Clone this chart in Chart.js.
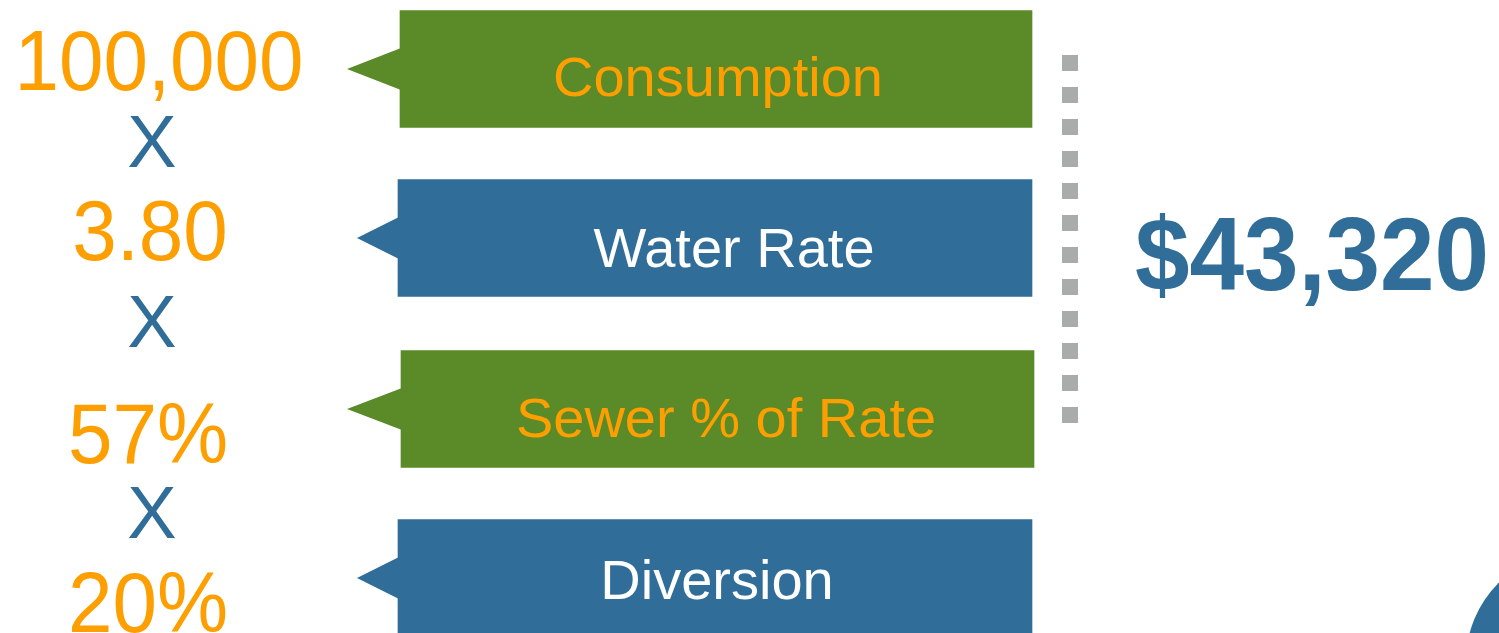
<!DOCTYPE html>
<html>
<head>
<meta charset="utf-8">
<style>
  html,body{margin:0;padding:0;background:#ffffff;overflow:hidden;}
  #wrap{width:1499px;height:633px;position:relative;}
  canvas{display:block;}
</style>
<script src="https://cdn.jsdelivr.net/npm/chart.js@4/dist/chart.umd.min.js"></script>
</head>
<body>
<div id="wrap"><canvas id="c" width="1499" height="633"></canvas></div>
<script>
// ---- data ----
const categories = ['Consumption', 'Water Rate', 'Sewer % of Rate', 'Diversion'];
const factorLabels = ['100,000', '3.80', '57%', '20%'];
const factorValues = [100000, 3.80, 0.57, 0.20];
const operatorLabel = 'X';
const resultLabel = '$43,320';

// ---- layout / style (not data) ----
const GREEN = '#5b8a28', BLUE = '#306e99', ORANGE = '#fd9f00', GRAY = '#a9acad';
const boxColors = [GREEN, BLUE, GREEN, BLUE];
const boxTextColors = [ORANGE, '#ffffff', ORANGE, '#ffffff'];
const boxCenters = [69, 238, 409, 578];
const boxStart = [400, 398, 401, 398];
const boxEnd = [1032, 1032, 1034, 1032];
const boxTextCenter = [718, 734, 726, 717];
const boxTextBaseline = [96, 267, 437, 599];
const tipX = [347, 357, 347, 357];
const notchHalf = 21;
const factorCenters = [159, 150, 148, 148];
const factorBaselines = [90, 260, 463, 632];
const operatorBaselines = [167, 347, 538];
const resultX = 1312, resultBaseline = 290;

const boxData = categories.map((c, i) => ({ x: [boxStart[i], boxEnd[i]], y: boxCenters[i] }));

function stretchedText(ctx, t, x, y, sy) {
  ctx.save();
  ctx.translate(x, y);
  ctx.scale(1, sy);
  ctx.fillText(t, 0, 0);
  ctx.restore();
}

const infographic = {
  id: 'infographic',
  afterDatasetsDraw(chart) {
    const ctx = chart.ctx;
    const xs = chart.scales.x, ys = chart.scales.y;
    const meta = chart.getDatasetMeta(0);
    ctx.save();
    // callout tips and labels
    meta.data.forEach((bar, i) => {
      const left = Math.min(bar.x, bar.base);
      ctx.fillStyle = boxColors[i];
      ctx.beginPath();
      ctx.moveTo(left + 1, bar.y - notchHalf);
      ctx.lineTo(xs.getPixelForValue(tipX[i]), bar.y);
      ctx.lineTo(left + 1, bar.y + notchHalf);
      ctx.closePath();
      ctx.fill();
      ctx.fillStyle = boxTextColors[i];
      ctx.font = '56px "Liberation Sans", Arial, sans-serif';
      ctx.textAlign = 'center';
      ctx.textBaseline = 'alphabetic';
      ctx.fillText(categories[i], xs.getPixelForValue(boxTextCenter[i]), ys.getPixelForValue(boxTextBaseline[i]));
    });
    // left factors
    ctx.textAlign = 'center';
    ctx.textBaseline = 'alphabetic';
    ctx.font = '80px "Liberation Sans", Arial, sans-serif';
    ctx.fillStyle = ORANGE;
    factorLabels.forEach((t, i) => {
      stretchedText(ctx, t, xs.getPixelForValue(factorCenters[i]), ys.getPixelForValue(factorBaselines[i]), 1.06);
    });
    ctx.fillStyle = BLUE;
    ctx.font = '74px "Liberation Sans", Arial, sans-serif';
    operatorBaselines.forEach(b => {
      ctx.fillText(operatorLabel, xs.getPixelForValue(152), ys.getPixelForValue(b));
    });
    // result
    ctx.fillStyle = BLUE;
    ctx.font = 'bold 98px "Liberation Sans", Arial, sans-serif';
    stretchedText(ctx, resultLabel, xs.getPixelForValue(resultX), ys.getPixelForValue(resultBaseline), 1.06);
    ctx.restore();
  }
};

new Chart(document.getElementById('c'), {
  data: {
    datasets: [
      {
        type: 'bar',
        indexAxis: 'y',
        data: boxData,
        backgroundColor: boxColors,
        borderWidth: 0,
        barThickness: 117,
        clip: false,
        order: 2
      },
      {
        type: 'line',
        data: [{ x: 1070, y: 55 }, { x: 1070, y: 423 }],
        borderColor: GRAY,
        borderWidth: 16,
        borderDash: [16, 16],
        borderCapStyle: 'butt',
        pointRadius: 0,
        fill: false,
        clip: false,
        order: 1
      },
      {
        type: 'scatter',
        data: [{ x: 1576, y: 661 }],
        backgroundColor: BLUE,
        borderWidth: 0,
        pointRadius: 110,
        pointHoverRadius: 110,
        clip: false,
        order: 0
      }
    ]
  },
  options: {
    responsive: false,
    animation: false,
    devicePixelRatio: 1,
    layout: { padding: 0, autoPadding: false },
    plugins: { legend: { display: false }, tooltip: { enabled: false } },
    events: [],
    scales: {
      x: { type: 'linear', min: 0, max: 1499, display: false, offset: false, grace: 0 },
      y: { type: 'linear', min: 0, max: 633, reverse: true, display: false, offset: false, grace: 0 }
    }
  },
  plugins: [infographic]
});
</script>
</body>
</html>
